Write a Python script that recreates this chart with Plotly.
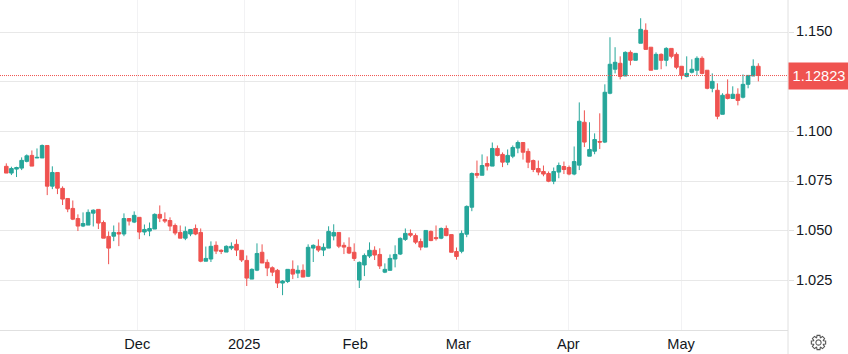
import numpy as np
import plotly.graph_objects as go

opens = [1.0825,1.0791,1.0811,1.0816,1.0850,1.0880,1.0867,1.0867,1.0930,1.0725,
1.0794,1.0714,1.0663,1.0613,1.0562,1.0524,1.0529,1.0589,1.0608,1.0542,
1.0472,1.0473,1.0492,1.0484,1.0562,1.0544,1.0568,1.0494,1.0499,1.0509,
1.0583,1.0557,1.0552,1.0527,1.0492,1.0463,1.0484,1.0512,1.0492,1.0347,
1.0358,1.0427,1.0402,1.0393,1.0413,1.0432,1.0402,1.0351,1.0257,1.0302,
1.0392,1.0341,1.0314,1.0301,1.0237,1.0245,1.0306,1.0287,1.0301,1.0271,
1.0413,1.0422,1.0403,1.0413,1.0474,1.0492,1.0427,1.0417,1.0392,1.0252,
1.0328,1.0373,1.0402,1.0381,1.0292,1.0301,1.0358,1.0383,1.0457,1.0487,
1.0476,1.0446,1.0418,1.0497,1.0466,1.0463,1.0512,1.0481,1.0396,1.0397,
1.0483,1.0619,1.0789,1.0780,1.0839,1.0826,1.0915,1.0885,1.0846,1.0876,
1.0917,1.0945,1.0900,1.0854,1.0814,1.0799,1.0789,1.0750,1.0796,1.0824,
1.0819,1.0786,1.0831,1.1047,1.0876,1.0901,1.0950,1.0947,1.1193,1.1314,
1.1344,1.1280,1.1399,1.1359,1.1445,1.1510,1.1425,1.1314,1.1389,1.1359,
1.1419,1.1389,1.1329,1.1278,1.1299,1.1309,1.1369,1.1309,1.1218,1.1208,
1.1087,1.1188,1.1167,1.1188,1.1173,1.1238,1.1280,1.1329]

highs = [1.0840,1.0823,1.0823,1.0870,1.0885,1.0905,1.0915,1.0935,1.0930,1.0825,
1.0794,1.0724,1.0663,1.0653,1.0583,1.0593,1.0608,1.0608,1.0608,1.0552,
1.0497,1.0527,1.0542,1.0588,1.0562,1.0598,1.0568,1.0532,1.0542,1.0588,
1.0628,1.0593,1.0568,1.0537,1.0527,1.0522,1.0507,1.0532,1.0512,1.0421,
1.0447,1.0447,1.0407,1.0427,1.0442,1.0457,1.0402,1.0376,1.0311,1.0437,
1.0432,1.0356,1.0321,1.0308,1.0252,1.0306,1.0351,1.0326,1.0331,1.0432,
1.0432,1.0457,1.0437,1.0523,1.0533,1.0492,1.0442,1.0467,1.0437,1.0346,
1.0386,1.0442,1.0422,1.0412,1.0336,1.0381,1.0427,1.0467,1.0512,1.0507,
1.0487,1.0461,1.0502,1.0502,1.0527,1.0517,1.0527,1.0481,1.0416,1.0502,
1.0628,1.0794,1.0854,1.0885,1.0875,1.0945,1.0930,1.0895,1.0910,1.0930,
1.0955,1.0945,1.0915,1.0859,1.0854,1.0829,1.0799,1.0819,1.0844,1.0849,
1.0829,1.0925,1.1147,1.1107,1.1047,1.0991,1.1092,1.1238,1.1475,1.1425,
1.1379,1.1404,1.1409,1.1394,1.1571,1.1545,1.1425,1.1399,1.1394,1.1425,
1.1419,1.1399,1.1329,1.1379,1.1364,1.1379,1.1379,1.1309,1.1293,1.1243,
1.1193,1.1263,1.1228,1.1218,1.1288,1.1283,1.1364,1.1344]

lows = [1.0791,1.0781,1.0771,1.0806,1.0845,1.0826,1.0867,1.0867,1.0680,1.0710,
1.0685,1.0630,1.0594,1.0554,1.0499,1.0519,1.0529,1.0522,1.0509,1.0463,
1.0332,1.0448,1.0423,1.0473,1.0527,1.0539,1.0458,1.0478,1.0473,1.0509,
1.0544,1.0539,1.0499,1.0478,1.0463,1.0453,1.0473,1.0478,1.0342,1.0347,
1.0343,1.0383,1.0383,1.0393,1.0403,1.0373,1.0343,1.0222,1.0257,1.0297,
1.0338,1.0272,1.0272,1.0212,1.0176,1.0237,1.0257,1.0262,1.0267,1.0267,
1.0343,1.0393,1.0373,1.0413,1.0452,1.0413,1.0383,1.0383,1.0348,1.0212,
1.0272,1.0363,1.0353,1.0308,1.0287,1.0301,1.0316,1.0378,1.0449,1.0468,
1.0433,1.0402,1.0418,1.0448,1.0451,1.0458,1.0473,1.0392,1.0355,1.0387,
1.0468,1.0599,1.0765,1.0780,1.0804,1.0826,1.0875,1.0821,1.0831,1.0866,
1.0891,1.0859,1.0816,1.0796,1.0780,1.0775,1.0745,1.0735,1.0765,1.0786,
1.0780,1.0780,1.0806,1.0922,1.0876,1.0886,1.0912,1.0942,1.1188,1.1293,
1.1263,1.1280,1.1334,1.1359,1.1445,1.1414,1.1309,1.1314,1.1314,1.1329,
1.1369,1.1314,1.1263,1.1273,1.1293,1.1283,1.1288,1.1213,1.1198,1.1062,
1.1087,1.1162,1.1167,1.1132,1.1167,1.1218,1.1280,1.1253]

closes = [1.0791,1.0814,1.0819,1.0855,1.0878,1.0826,1.0870,1.0930,1.0725,1.0794,
1.0715,1.0660,1.0610,1.0559,1.0524,1.0537,1.0593,1.0604,1.0539,1.0463,
1.0413,1.0492,1.0484,1.0562,1.0549,1.0578,1.0494,1.0507,1.0512,1.0583,
1.0564,1.0549,1.0524,1.0489,1.0463,1.0497,1.0507,1.0484,1.0347,1.0361,
1.0422,1.0398,1.0397,1.0422,1.0422,1.0403,1.0353,1.0262,1.0306,1.0386,
1.0338,1.0313,1.0292,1.0237,1.0247,1.0306,1.0282,1.0301,1.0267,1.0417,
1.0427,1.0403,1.0417,1.0497,1.0492,1.0423,1.0418,1.0388,1.0361,1.0341,
1.0376,1.0402,1.0378,1.0323,1.0306,1.0361,1.0381,1.0462,1.0487,1.0478,
1.0443,1.0418,1.0502,1.0451,1.0461,1.0512,1.0476,1.0392,1.0371,1.0487,
1.0623,1.0789,1.0780,1.0829,1.0826,1.0915,1.0880,1.0846,1.0880,1.0920,
1.0945,1.0896,1.0846,1.0809,1.0796,1.0786,1.0750,1.0799,1.0829,1.0809,
1.0786,1.0849,1.1052,1.0947,1.0910,1.0960,1.0947,1.1198,1.1339,1.1349,
1.1278,1.1399,1.1359,1.1394,1.1515,1.1414,1.1309,1.1389,1.1359,1.1419,
1.1379,1.1324,1.1283,1.1293,1.1314,1.1369,1.1293,1.1218,1.1253,1.1077,
1.1183,1.1167,1.1188,1.1157,1.1238,1.1283,1.1329,1.12823]

month_positions = [25.6, 46.5, 68.2, 88.35, 109.85, 131.9]
month_labels = ["Dec", "2025", "Feb", "Mar", "Apr", "May"]
price_ticks = [1.025, 1.050, 1.075, 1.100, 1.125, 1.150]
price_tick_labels = ["1.025", "1.050", "1.075", "1.100", "", "1.150"]
last_price = closes[-1]

UP = "#26a69a"
DOWN = "#ef5350"
GRID_H = "#e8e8e8"
GRID_V = "#f2f2f4"
AXIS = "#e0e0e0"
TEXT = "#131722"
FONT = "Liberation Sans, Arial, sans-serif"
W, H = 848, 354
PLOT_W, PLOT_H = 788, 330

fig = go.Figure(go.Candlestick(
    x=list(range(len(closes))),
    open=opens, high=highs, low=lows, close=closes,
    increasing=dict(line=dict(color=UP, width=1), fillcolor=UP),
    decreasing=dict(line=dict(color=DOWN, width=1), fillcolor=DOWN),
    whiskerwidth=0,
    showlegend=False,
    hoverinfo="skip",
))

def px(x):
    return x / PLOT_W

def py(y):
    return 1 - y / PLOT_H

# settings gear icon
cx, cy = 818.5, 342.5
pts = []
for k in range(8):
    a = k * np.pi / 4
    for da, r in [(-0.36, 5.2), (-0.20, 7.3), (0.20, 7.3), (0.36, 5.2)]:
        pts.append((cx + r * np.cos(a + da), cy + r * np.sin(a + da)))
gear = "M" + " L".join(f"{px(a):.5f},{py(b):.5f}" for a, b in pts) + " Z"
ring_t = np.linspace(0, 2 * np.pi, 25)[:-1]
ring = "M" + " L".join(f"{px(cx + 2.6*np.cos(t)):.5f},{py(cy + 2.6*np.sin(t)):.5f}" for t in ring_t) + " Z"

fig.update_layout(
    width=W, height=H,
    margin=dict(l=0, r=W - PLOT_W, t=0, b=H - PLOT_H, pad=0),
    paper_bgcolor="white", plot_bgcolor="white",
    boxgap=0.0,
    font=dict(family=FONT, size=14.6, color=TEXT),
    xaxis=dict(
        range=[-1.231, 152.8], rangeslider=dict(visible=False),
        tickmode="array", tickvals=month_positions, ticktext=month_labels,
        showgrid=True, gridcolor=GRID_V, gridwidth=1,
        showline=True, linecolor=AXIS, linewidth=1,
        ticks="", zeroline=False, fixedrange=True,
    ),
    yaxis=dict(
        side="right", range=[1.00005, 1.16628],
        tickmode="array", tickvals=price_ticks, ticktext=price_tick_labels,
        showgrid=True, gridcolor=GRID_H, gridwidth=1,
        showline=False,
        ticks="outside", ticklen=5, tickcolor=AXIS, tickwidth=1,
        ticklabelshift=-1, ticklabelstandoff=-1,
        zeroline=False, fixedrange=True,
    ),
    shapes=[
        dict(type="line", xref="paper", yref="y", x0=0, x1=1, y0=last_price, y1=last_price,
             line=dict(color=DOWN, width=1, dash="1px,1px"), layer="above"),
        dict(type="line", xref="paper", yref="paper", x0=1, x1=1, y0=py(H), y1=1,
             line=dict(color=AXIS, width=1)),
        dict(type="path", xref="paper", yref="paper", path=gear,
             line=dict(color="#555555", width=1.1)),
        dict(type="path", xref="paper", yref="paper", path=ring,
             line=dict(color="#555555", width=1.1)),
    ],
    annotations=[
        dict(xref="paper", yref="y", x=1, y=last_price, xanchor="left", yanchor="middle",
             text=f"{last_price:.5f}", showarrow=False, align="center",
             width=W - PLOT_W, height=26, bgcolor=DOWN, borderpad=0,
             font=dict(color="white", size=14.6, family=FONT)),
    ],
)

fig.write_html(
    "out.html",
    config={"displayModeBar": False},
    post_script="document.body.style.margin='0';document.body.style.overflow='hidden';",
)
